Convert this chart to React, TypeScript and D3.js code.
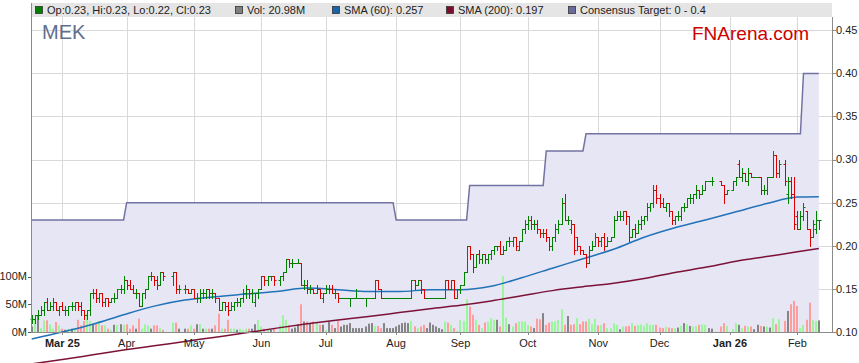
import * as d3 from 'd3'

const W = 859
const H = 363

const startDate = '2025-02-17'
const endDate = '2026-02-11'
const holidays = ['2025-04-18', '2025-04-21', '2025-04-25', '2025-06-09', '2025-12-25', '2025-12-26', '2026-01-01', '2026-01-26']

// daily prices in cents, one entry per trading day (Feb 17 2025 .. Feb 11 2026)
const opens = [
  11.5, 11.5, 12, 12, 12.5, 13.5, 12.5, 13, 13.5, 12.5,
  13, 12.5, 12.5, 13, 13, 13.5, 13, 12.5, 12, 12.5, 14.5, 14.5, 14, 14.5, 13.5, 14, 13.5, 14, 14, 15, 15,
  16, 15.5, 15, 14.5, 14.5, 13, 14.5, 15, 16.5, 16.5, 16, 15.5, 17, 16.5, 17, 15, 15, 15, 14.5,
  15, 14, 14, 14.5, 14.5, 15, 14.5, 14.5, 14, 12.5, 13.5, 13, 12.5, 13, 13.5, 13.5, 14, 14.5, 15, 14.5, 13.5, 14.5,
  15, 16.5, 16, 16.5, 16.5, 16, 16.5, 17, 18.5, 18, 18, 18, 18, 15.5, 15.5, 15, 15, 14.5, 15, 14,
  14.5, 15, 15, 14.5, 14.5, 14, 14, 14, 14, 14, 14, 14, 14, 14, 14, 14, 14, 16, 15, 14, 14, 14, 14,
  14, 14, 14, 14, 14, 14, 16, 15.5, 16, 15, 14, 14, 14, 14, 14, 14, 14, 16, 15, 16, 14,
  15, 15.5, 17, 20, 19, 17.5, 19, 18.5, 19, 18.5, 19, 19.5, 20, 20, 19, 19.5, 20.5, 20.5, 21, 19.5, 20.5, 22,
  22.5, 23, 22.5, 22.5, 22, 21.5, 21.5, 21, 20, 21, 22, 22.5, 25, 23, 22, 22.5, 21, 20, 19.5, 19, 18, 19.5, 20,
  21, 20.5, 21, 20, 20.5, 21, 23, 23.5, 23.5, 24, 23.5, 21, 22, 21.5, 22.5, 23, 23.5, 24.5, 25, 26.5,
  25.5, 25, 24.5, 25, 24, 23, 23.5, 23.5, 24.5, 24.5, 25.5, 25.5, 26, 26.5, 26, 26.5, 27.5, 27.5, 27.5, 27, 26,
  26.5, 27.5, 29.5, 28, 28.5, 27.5, 28.5, 28, 28, 28, 26.5, 26.5, 28, 28, 30.5, 28.5, 29.5, 26, 27.5, 26,
  23.5, 22, 23.5, 24, 22, 21, 22, 23,
]
const highs = [
  12, 12, 12.5, 13, 13.5, 14, 13.5, 14, 13.5, 13,
  13.5, 13, 13, 13.5, 13.5, 13.5, 13.5, 12.5, 12.5, 14.5, 15, 15, 14.5, 14.5, 14, 14, 14, 14.5, 15, 15.5, 16.5,
  16, 16, 15.5, 15, 14.5, 14.5, 15, 16.5, 17, 16.5, 16.5, 17, 17, 17, 17, 15.5, 15.5, 15, 15,
  15, 14.5, 15, 15, 15, 15, 15, 14.5, 14, 13.5, 13.5, 13.5, 13.5, 13.5, 14, 14, 15, 15.5, 15, 15, 14.5, 15,
  16.5, 16.5, 16.5, 16.5, 16.5, 16.5, 17, 18.5, 18.5, 18.5, 18, 18.5, 18, 16, 16, 15.5, 15, 15.5, 15, 14.5,
  15.5, 15.5, 15.5, 15, 14.5, 14, 14, 14, 14, 14, 15, 14, 14, 14, 14, 14, 16, 16, 15, 14, 14, 14, 14,
  14, 14, 14, 14, 14, 16, 16, 16, 16, 15, 14, 14, 14, 14, 14, 14, 16, 16, 16, 16, 15,
  15.5, 17, 20, 20, 19, 19, 19.5, 19, 19, 19, 19.5, 20, 20, 20.5, 20, 20.5, 21, 21, 21, 20.5, 22, 23,
  23.5, 23.5, 23, 23, 22, 22, 22, 21, 21, 22.5, 23, 25.5, 26, 23.5, 23, 22.5, 21, 20, 19.5, 19, 20, 20.5, 21.5,
  21, 21, 21.5, 21, 21, 23.5, 24, 24, 24, 24, 23.5, 22, 22.5, 23, 23.5, 23.5, 25, 25, 27, 27,
  26, 25.5, 25, 25, 24, 23.5, 24, 24.5, 25, 25.5, 26, 26, 27, 26.5, 27, 27.5, 27.5, 28, 27.5, 27, 26.5,
  27.5, 28, 30, 29, 28.5, 29, 28.5, 28, 28, 28, 27, 28, 28, 31, 30.5, 30, 30, 28, 28, 28,
  24, 24, 25, 24, 22, 23, 24, 23,
]
const lows = [
  11, 11, 11.5, 12, 12, 12.5, 12.5, 12.5, 12.5, 12,
  12.5, 12, 12, 12.5, 12.5, 12.5, 12, 11.5, 11.5, 12, 14, 13.5, 13.5, 13, 13, 13, 13.5, 13.5, 14, 14.5, 14.5,
  15, 15, 14.5, 14, 13, 13, 14, 15, 16, 15.5, 15, 15.5, 16, 15.5, 14.5, 14.5, 14.5, 14.5, 14.5,
  14, 13.5, 13.5, 14, 14, 14, 14, 13.5, 12.5, 12.5, 12.5, 12, 12.5, 12.5, 13, 13, 13.5, 14, 14, 13.5, 13, 14,
  15, 15.5, 15.5, 16, 15.5, 15.5, 16, 17, 17.5, 17.5, 18, 18, 15.5, 15, 14.5, 14.5, 14.5, 14.5, 14, 13.5,
  14.5, 14.5, 14.5, 14, 13.5, 14, 14, 14, 13, 14, 14, 14, 14, 13, 14, 14, 14, 15, 14, 14, 14, 14, 14,
  14, 14, 14, 14, 14, 14, 15, 15.5, 14.5, 14, 14, 14, 14, 14, 14, 14, 14, 15, 15, 14, 14,
  14.5, 15.5, 17, 18.5, 17, 17.5, 18, 18, 18, 18, 18.5, 19, 19.5, 19, 19, 19.5, 20, 20, 19.5, 19.5, 20.5, 21.5,
  22, 22, 22, 21.5, 21, 21, 20.5, 19.5, 19.5, 20.5, 21.5, 22.5, 23, 22.5, 21.5, 19, 19.5, 19, 19, 17.5, 18, 19.5, 20,
  20, 20, 19.5, 20, 20.5, 21, 23, 23, 23, 22.5, 20.5, 21, 21, 21.5, 22, 22.5, 23, 24, 24.5, 25,
  24.5, 24.5, 24, 23.5, 22.5, 22.5, 23, 23, 24, 24.5, 25, 25, 25.5, 25.5, 26, 26.5, 27.5, 27, 27, 25, 26,
  26.5, 27, 28, 27.5, 27.5, 27, 28, 28, 28, 26, 26, 26, 28, 28, 28, 28, 27, 25, 25.5, 22,
  22, 22, 23, 22, 20, 21, 21.5, 22,
]
const closes = [
  11.5, 12, 12, 12.5, 13.5, 12.5, 13, 13.5, 12.5, 13,
  12.5, 12.5, 13, 13, 13.5, 13, 12.5, 12, 12.5, 14.5, 14.5, 14, 14.5, 13.5, 14, 13.5, 14, 14, 15, 15, 16,
  15.5, 15, 14.5, 14.5, 13, 14.5, 15, 16.5, 16.5, 16, 15.5, 17, 16.5, 17, 15, 15, 15, 14.5, 15,
  14, 14, 14.5, 14.5, 15, 14.5, 14.5, 14, 12.5, 13.5, 13, 12.5, 13, 13.5, 13.5, 14, 14.5, 15, 14.5, 14.5, 14.5, 15,
  16.5, 16, 16.5, 16.5, 16, 16.5, 17, 18.5, 18, 18, 18, 18, 15.5, 15.5, 15, 15, 14.5, 15, 14.5, 14.5,
  15, 15, 14.5, 14.5, 14, 14, 14, 14, 14, 14, 14, 14, 14, 14, 14, 14, 16, 15, 14, 14, 14, 14, 14,
  14, 14, 14, 14, 14, 16, 15.5, 16, 15, 14, 14, 14, 14, 14, 14, 14, 16, 15, 16, 14, 15,
  15.5, 17, 20, 19, 17.5, 19, 18.5, 19, 18.5, 19, 19.5, 20, 20, 19, 19.5, 20.5, 20.5, 21, 20, 20.5, 22, 22.5,
  23, 22.5, 22.5, 22, 21.5, 21.5, 21, 20, 21, 22, 22.5, 25, 23, 23, 22.5, 19.5, 20, 19.5, 19, 18, 19.5, 20, 21,
  20.5, 21, 20, 20.5, 21, 23, 23.5, 23.5, 24, 23.5, 21, 22, 21.5, 22.5, 23, 23.5, 24.5, 25, 26.5, 25.5,
  25, 24.5, 25, 24, 23, 23.5, 23.5, 24.5, 24.5, 25.5, 25.5, 26, 26.5, 26, 26.5, 27.5, 27.5, 27.5, 27, 26, 26.5,
  27.5, 28, 28, 28.5, 27.5, 28.5, 28, 28, 28, 26.5, 26.5, 28, 28, 30.5, 28.5, 29.5, 27.5, 27.5, 26, 22.5,
  22, 23.5, 24.5, 22, 21, 22.5, 23, 23,
]
// volume in millions
const volumes = [
  10, 24, 30, 7, 21, 21, 14, 6, 18, 12,
  6, 4, 6, 6, 6, 22, 12, 20, 33, 20, 15, 15, 20, 12, 12, 6, 4, 13, 13, 14, 13,
  14, 6, 12, 6, 24, 6, 14, 12, 6, 12, 12, 7, 4, 17, 17, 6, 6, 6, 12,
  6, 14, 14, 6, 6, 6, 6, 12, 33, 6, 6, 22, 6, 6, 4, 6, 4, 6, 6, 6, 14, 22,
  10, 6, 6, 4, 6, 13, 30, 22, 12, 6, 8, 14, 50, 19, 19, 16, 19, 16, 13, 13,
  4, 19, 13, 7, 20, 10, 13, 13, 16, 7, 7, 7, 7, 10, 15, 16, 11, 11, 7, 16, 7, 7, 7,
  10, 13, 16, 17, 16, 20, 10, 7, 10, 13, 7, 17, 13, 10, 7, 5, 19, 17, 13, 7, 2,
  22, 20, 59, 46, 31, 22, 13, 7, 17, 19, 25, 22, 22, 10, 101, 26, 14, 10, 16, 19, 19, 19,
  13, 10, 7, 24, 23, 34, 13, 17, 19, 19, 22, 41, 13, 29, 13, 14, 25, 14, 19, 19, 24, 14, 24,
  12, 12.6, 16, 7, 7, 16, 13, 5, 10, 10, 11, 16, 11, 13, 14, 11, 16, 13, 13, 13,
  8, 7, 9, 8, 7, 7, 8, 11, 16, 14, 11, 10, 11, 13, 14, 13, 7, 6, 10, 16, 11,
  5, 16, 13, 7, 11, 10, 10, 5, 13, 11, 10, 10, 8, 25, 14, 23, 20, 38, 50, 56,
  47, 7, 13, 22, 53, 22, 20, 20.98,
]

const smaIdx = [0, 10, 20, 30, 40, 50, 60, 70, 80, 90, 100, 110, 120, 130, 140, 150, 160, 170, 180, 190, 200, 210, 220, 230, 240, 250, 257]
const sma60 = [9.2, 10.0, 10.9, 12.0, 13.0, 13.7, 14.1, 14.4, 14.7, 15.1, 14.9, 14.7, 14.7, 14.9, 14.9, 15.3, 16.3, 17.4, 18.5, 19.6, 21.0, 22.1, 23.0, 23.95, 24.9, 25.65, 25.7]
const sma200 = [6.3, 6.8, 7.35, 7.9, 8.4, 8.9, 9.4, 9.9, 10.45, 10.95, 11.4, 11.8, 12.25, 12.7, 13.1, 13.6, 14.2, 14.8, 15.25, 15.65, 16.2, 16.9, 17.5, 18.2, 18.75, 19.3, 19.7]

// consensus target changes
const targetDates = ['2025-02-17', '2025-04-01', '2025-08-01', '2025-09-04', '2025-10-09', '2025-10-28', '2026-02-04']
const targetValues = [0.23, 0.25, 0.23, 0.27, 0.31, 0.33, 0.40]

const priceTicks = [0.10, 0.15, 0.20, 0.25, 0.30, 0.35, 0.40, 0.45]
const volTicks = [0, 50, 100]
const volTickLabels = ['0M', '50M', '100M']

const legendItems = [
  { color: '#008000', text: 'Op:0.23, Hi:0.23, Lo:0.22, Cl:0.23', x: 35 },
  { color: '#808080', text: 'Vol: 20.98M', x: 235 },
  { color: '#1a64a8', text: 'SMA (60): 0.257', x: 332 },
  { color: '#7d0d2e', text: 'SMA (200): 0.197', x: 446 },
  { color: '#6a6a9c', text: 'Consensus Target: 0 - 0.4', x: 568 },
]

const FONT = 'Liberation Sans, Arial, sans-serif'

export default function App() {
  const parse = d3.utcParse('%Y-%m-%d')
  const key = d3.utcFormat('%Y-%m-%d')
  const start = parse(startDate) as Date
  const end = parse(endDate) as Date
  const slots = d3.utcDays(start, d3.utcDay.offset(end, 1)).filter(d => d.getUTCDay() !== 0 && d.getUTCDay() !== 6)
  const hol = new Set(holidays)
  const tradeIdx = slots.map((d, i) => ({ d, i })).filter(s => !hol.has(key(s.d))).map(s => s.i)

  const bars = tradeIdx.map((i, k) => ({
    i,
    o: opens[k] / 100,
    h: highs[k] / 100,
    l: lows[k] / 100,
    c: closes[k] / 100,
    v: volumes[k],
    prev: k > 0 ? closes[k - 1] / 100 : opens[k] / 100,
  }))

  const x = d3.scaleLinear().domain([0, slots.length - 1]).range([31.7, 818.8])
  const y = d3.scaleLinear().domain([0.10, 0.45]).range([332, 30.3])
  const yv = d3.scaleLinear().domain([0, 100]).range([332, 276.6])

  const left = 31
  const right = 832
  const top = 17
  const bottom = 332

  // consensus target per slot
  const tDates = targetDates.map(s => parse(s) as Date)
  const target = slots.map(d => targetValues[d3.bisectRight(tDates, d) - 1])
  const tLine = d3.line<number>().x((_, i) => x(i)).y(v => y(v))
  const tArea = d3.area<number>().x((_, i) => x(i)).y0(y(0.10)).y1(v => y(v))

  const smaLine = d3.line<number>().x((_, k) => x(smaIdx[k])).y(v => y(v / 100)).curve(d3.curveMonotoneX)

  // month ticks
  const months = slots
    .map((d, i) => ({ d, i }))
    .filter(({ d, i }) => i > 0 && d.getUTCMonth() !== slots[i - 1].getUTCMonth())
  const monthLabel = (d: Date, k: number) =>
    k === 0 || d.getUTCMonth() === 0 ? d3.utcFormat('%b %y')(d) : d3.utcFormat('%b')(d)

  const crisp = (v: number) => Math.round(v) + 0.5

  return (
    <div style={{ position: 'absolute', left: 0, top: 0 }}>
      <svg width={W} height={H} style={{ display: 'block', fontFamily: FONT }}>
        <rect x={0} y={0} width={W} height={H} fill="#ffffff" />
        {/* legend strip */}
        <rect x={left} y={3} width={right - left} height={14} fill="#e5e5e5" />
        {legendItems.map(it => (
          <g key={it.text}>
            <rect x={it.x + 0.5} y={6.5} width={7} height={7} fill={it.color} stroke="#333" strokeWidth={0.8} />
            <text x={it.x + 12} y={14} fontSize={11} fill="#222">{it.text}</text>
          </g>
        ))}

        {/* grid */}
        {priceTicks.map(t => (
          <line key={t} x1={left} x2={right} y1={crisp(y(t))} y2={crisp(y(t))} stroke="#d9d9d9" />
        ))}
        {months.map(m => (
          <line key={m.i} x1={crisp(x(m.i))} x2={crisp(x(m.i))} y1={top} y2={bottom} stroke="#d9d9d9" />
        ))}

        {/* consensus target */}
        <path d={tArea(target) ?? ''} fill="#e6e6f5" />
        <path d={tLine(target) ?? ''} fill="none" stroke="#7373a3" strokeWidth={1.5} />

        {/* volume */}
        {bars.map(b => (
          <rect
            key={'v' + b.i}
            x={Math.round(x(b.i)) - 1}
            y={yv(b.v)}
            width={2}
            height={yv(0) - yv(b.v)}
            fill={b.c > b.prev ? '#9cf79c' : b.c < b.prev ? '#ff9c9c' : '#858585'}
          />
        ))}

        {/* moving averages */}
        <path d={smaLine(sma200) ?? ''} fill="none" stroke="#7d1237" strokeWidth={1.5} />
        <path d={smaLine(sma60) ?? ''} fill="none" stroke="#2272b8" strokeWidth={1.5} />

        {/* OHLC bars */}
        {bars.map(b => {
          const px = crisp(x(b.i))
          const yo = crisp(y(b.o))
          const yc = crisp(y(b.c))
          const d = `M${px},${Math.round(y(b.h))}V${Math.round(y(b.l)) + 1}M${px - 2},${yo}H${px}M${px},${yc}H${px + 2}`
          return <path key={'b' + b.i} d={d} fill="none" stroke={b.c >= b.o ? '#008000' : '#dd0000'} strokeWidth={1} />
        })}

        {/* axes */}
        <line x1={left + 0.5} x2={left + 0.5} y1={3} y2={bottom} stroke="#8a8a8a" />
        <line x1={right + 0.5} x2={right + 0.5} y1={top} y2={bottom} stroke="#8a8a8a" />
        <line x1={left} x2={right + 1} y1={bottom + 0.5} y2={bottom + 0.5} stroke="#8a8a8a" />

        {priceTicks.map(t => (
          <g key={'p' + t}>
            <line x1={right} x2={right + 4} y1={crisp(y(t))} y2={crisp(y(t))} stroke="#8a8a8a" />
            <text x={right + 4} y={y(t)} dy="0.35em" fontSize={11} fill="#222">{t.toFixed(2)}</text>
          </g>
        ))}
        {volTicks.map((t, k) => (
          <g key={'vt' + t}>
            <line x1={left - 3} x2={left} y1={crisp(yv(t))} y2={crisp(yv(t))} stroke="#555" />
            <text x={left - 4} y={yv(t)} dy="0.35em" textAnchor="end" fontSize={11} fill="#222">{volTickLabels[k]}</text>
          </g>
        ))}
        {months.map((m, k) => {
          const label = monthLabel(m.d, k)
          const bold = label.includes(' ')
          return (
            <g key={'m' + m.i}>
              <line x1={crisp(x(m.i))} x2={crisp(x(m.i))} y1={bottom} y2={bottom + 3} stroke="#8a8a8a" />
              <text x={x(m.i)} y={346.5} textAnchor="middle" fontSize={11} fontWeight={bold ? 'bold' : 'normal'} fill="#222">{label}</text>
            </g>
          )
        })}

        {/* titles */}
        <text x={42} y={39} fontSize={20} fill="#5f6e8c">MEK</text>
        <text x={692} y={40} fontSize={19} fill="#cc0000">FNArena.com</text>
      </svg>
    </div>
  )
}
